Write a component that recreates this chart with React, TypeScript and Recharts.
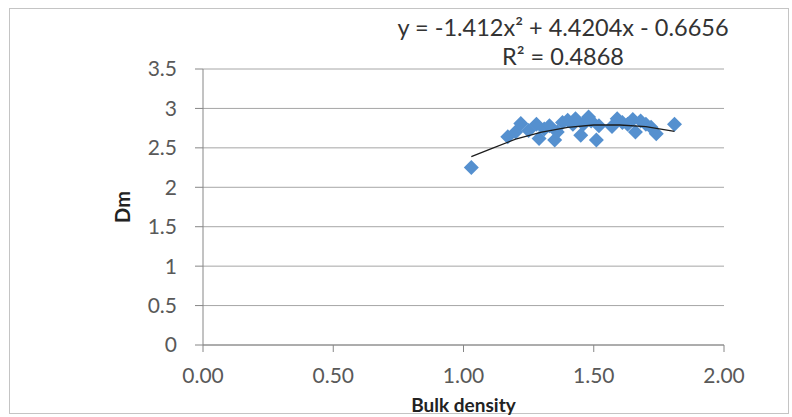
import { CartesianGrid, Label, Scatter, ScatterChart, XAxis, YAxis } from "recharts";

// Bulk density vs fractal dimension (Dm)
const bulkDensity = [
  1.03, 1.17, 1.2, 1.22, 1.25, 1.28, 1.29, 1.31, 1.33, 1.35, 1.36, 1.38, 1.4, 1.42, 1.43, 1.45,
  1.46, 1.48, 1.49, 1.51, 1.52, 1.57, 1.59, 1.61, 1.63, 1.65, 1.66, 1.68, 1.7, 1.72, 1.74, 1.81,
];
const dm = [
  2.25, 2.64, 2.7, 2.81, 2.72, 2.8, 2.62, 2.74, 2.78, 2.6, 2.7, 2.82, 2.85, 2.8, 2.87, 2.66,
  2.8, 2.89, 2.84, 2.6, 2.78, 2.77, 2.87, 2.82, 2.8, 2.86, 2.7, 2.84, 2.8, 2.76, 2.68, 2.8,
];

// polynomial trendline as drawn
const trendX = [1.03, 1.1, 1.2, 1.3, 1.4, 1.5, 1.6, 1.7, 1.81];
const trendY = [2.39, 2.48, 2.61, 2.7, 2.76, 2.79, 2.79, 2.77, 2.71];

const xTicks = [0, 0.5, 1, 1.5, 2];
const yTicks = [0, 0.5, 1, 1.5, 2, 2.5, 3, 3.5];

const equation = "y = -1.412x² + 4.4204x - 0.6656";
const rSquared = "R² = 0.4868";

const points = bulkDensity.map((x, i) => ({ x, y: dm[i] }));
const trend = trendX.map((x, i) => ({ x, y: trendY[i] }));

const FONT = "Lato, 'Open Sans', sans-serif";
const tickStyle = { fontSize: 21, fill: "#595959", fontFamily: FONT };

function Diamond(props: any) {
  const { cx, cy } = props;
  const r = 7.5;
  return (
    <polygon
      points={`${cx},${cy - r} ${cx + r},${cy} ${cx},${cy + r} ${cx - r},${cy}`}
      fill="#5590cf"
    />
  );
}

export default function App() {
  return (
    <div style={{ position: "absolute", left: 0, top: 0, width: 792, height: 417, background: "#fff" }}>
      <div
        style={{
          position: "absolute",
          left: 9,
          top: 8,
          width: 780,
          height: 406,
          border: "1px solid #c4c4c4",
          boxSizing: "border-box",
        }}
      />
      <ScatterChart width={792} height={417} margin={{ top: 69, right: 68, bottom: 0, left: 123 }}>
        <CartesianGrid vertical={false} stroke="#a6a6a6" />
        <XAxis
          type="number"
          dataKey="x"
          domain={[0, 2]}
          ticks={xTicks}
          tickFormatter={(v: number) => v.toFixed(2)}
          tick={tickStyle}
          tickSize={7}
          tickMargin={16}
          height={72}
          axisLine={{ stroke: "#868686" }}
          tickLine={{ stroke: "#868686" }}
        >
          <Label
            value="Bulk density"
            position="insideBottom"
            offset={5}
            style={{ fontSize: 19, fontWeight: 700, fill: "#222", fontFamily: FONT }}
          />
        </XAxis>
        <YAxis
          type="number"
          dataKey="y"
          domain={[0, 3.5]}
          ticks={yTicks}
          tick={tickStyle}
          tickSize={8}
          tickMargin={18}
          width={80}
          axisLine={{ stroke: "#868686" }}
          tickLine={{ stroke: "#868686" }}
        >
          <Label
            value="Dm"
            angle={-90}
            position="insideLeft"
            offset={0}
            style={{ fontSize: 20, fontWeight: 700, fill: "#222", fontFamily: FONT, textAnchor: "middle" }}
          />
        </YAxis>
        <Scatter data={points} shape={Diamond} isAnimationActive={false} />
        <Scatter
          data={trend}
          line={{ stroke: "#1c1c1c", strokeWidth: 1.3 }}
          lineType="joint"
          shape={() => <g />}
          isAnimationActive={false}
        />
      </ScatterChart>
      <div
        style={{
          position: "absolute",
          left: 363,
          width: 400,
          top: 13,
          textAlign: "center",
          fontFamily: FONT,
          fontSize: 23.5,
          color: "#333",
          lineHeight: "29px",
        }}
      >
        <div>{equation}</div>
        <div>{rSquared}</div>
      </div>
    </div>
  );
}
